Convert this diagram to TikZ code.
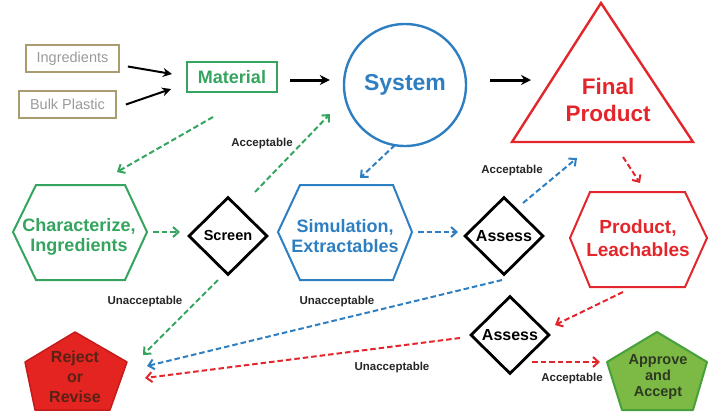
\documentclass[tikz,border=0pt]{standalone}
\usepackage{fontspec}
\setmainfont{Liberation Sans}
\usetikzlibrary{arrows.meta,calc,shapes.geometric}

\definecolor{grn}{HTML}{34A45E}
\definecolor{blu}{HTML}{2E7EC2}
\definecolor{rd}{HTML}{E3262B}
\definecolor{olive}{HTML}{A99C6E}
\definecolor{greytxt}{HTML}{9A9A9A}
\definecolor{okfill}{HTML}{7CBA45}
\definecolor{okedge}{HTML}{46A13A}
\definecolor{nofill}{HTML}{E32420}
\definecolor{noedge}{HTML}{C41B1B}
\definecolor{notxt}{HTML}{5A2216}
\definecolor{oktxt}{HTML}{2E3A22}

\tikzset{
  inbox/.style={draw=olive, line width=1.8pt, minimum height=27pt, inner xsep=4pt,
    text=greytxt, font=\fontsize{14.5}{16}\selectfont},
  matbox/.style={draw=grn, line width=2pt, minimum width=90pt, minimum height=30pt,
    text=grn, font=\fontsize{18}{20}\selectfont\bfseries},
  decide/.style={diamond, draw=black, line width=2.8pt, minimum width=79pt,
    minimum height=78pt, inner sep=0pt, aspect=1, font=\fontsize{16}{18}\selectfont\bfseries},
  hexlabel/.style={align=center, font=\fontsize{18}{20}\selectfont\bfseries},
  lbl/.style={font=\fontsize{11.5}{13}\selectfont\bfseries, text=black!85},
  solidarrow/.style={draw=black, line width=2pt, -{Stealth[length=9pt,width=9pt]}},
  thickarrow/.style={draw=black, line width=3pt, -{Stealth[length=10pt,width=10pt]}},
  dasharrow/.style={line width=2pt, dash pattern=on 5.5pt off 3pt,
    -{Straight Barb[length=5.5pt,width=10pt]}},
  gdash/.style={dasharrow, draw=grn},
  bdash/.style={dasharrow, draw=blu},
  rdash/.style={dasharrow, draw=rd},
}

\begin{document}
\begin{tikzpicture}[x=1pt,y=-1pt]
\useasboundingbox (0,0) rectangle (714,416);

% inputs and material
\node[inbox, minimum width=93pt] (ingr) at (72.5,58.5) {Ingredients};
\node[inbox, minimum width=97pt] (bulk) at (67.5,104.5) {Bulk Plastic};
\node[matbox] (mat) at (232,77) {Material};

% system
\node[circle, draw=blu, line width=2.4pt, minimum size=122pt, text=blu,
  font=\fontsize{23}{26}\selectfont\bfseries] (sys) at (405,85) {System};

% final product triangle
\node[align=center, text=rd, font=\fontsize{22.5}{27}\selectfont\bfseries] (fp) at (608,100) {Final\\Product};
\draw[rd, line width=2.4pt, line join=miter] (601,3) -- (693,142) -- (512,142) -- cycle;

% characterize hexagon
\node[hexlabel, text=grn] (char) at (79,237) {Characterize,\\Ingredients};
\draw[grn, line width=2pt] (13,232) -- (36,185) -- (125,185) -- (147,232) -- (125,280) -- (36,280) -- cycle;

% simulation hexagon
\node[hexlabel, text=blu] (sim) at (345,236) {Simulation,\\Extractables};
\draw[blu, line width=2pt] (278,232) -- (300,185) -- (393,185) -- (412,232) -- (393,280) -- (300,280) -- cycle;

% product hexagon
\node[hexlabel, text=rd, font=\fontsize{19}{23}\selectfont\bfseries] (prod) at (638,238) {Product,\\Leachables};
\draw[rd, line width=2pt] (570,238) -- (590,192) -- (685,192) -- (707,238) -- (685,287) -- (590,287) -- cycle;

% decisions
\node[decide, font=\fontsize{14.5}{16}\selectfont\bfseries] (scr) at (228,236) {Screen};
\node[decide] (as1) at (504,236) {Assess};
\node[decide] (as2) at (510,335) {Assess};

% outcome pentagons
\fill[nofill, draw=noedge, line width=1.5pt, line join=round]
  (75,332) -- (127,362) -- (110,410) -- (35,410) -- (25,362) -- cycle;
\node[align=center, text=notxt, font=\fontsize{16}{20}\selectfont\bfseries] (rej) at (75,377) {Reject\\or\\Revise};
\fill[okfill, draw=okedge, line width=2pt, line join=round]
  (657,332) -- (707,362) -- (693,410) -- (622,410) -- (607,362) -- cycle;
\node[align=center, text=oktxt, font=\fontsize{14.5}{16}\selectfont\bfseries] (appr) at (658,377) {Approve\\and\\Accept};

% main flow
\draw[solidarrow] ($(ingr.east)+(8,8)$) -- ($(mat.west)+(-14,-3)$);
\draw[solidarrow] ($(bulk.east)+(9,0)$) -- ($(mat.west)+(-15,12)$);
\draw[thickarrow] ($(mat.east)+(12,3)$) -- ($(sys.west)+(-13,-5)$);
\draw[thickarrow] ($(sys.east)+(23,-5)$) -- ($(fp)+(-77,-20)$);

% material branch
\draw[gdash] ($(mat.south)+(-19,24)$) -- ($(char)+(38,-65)$);
\draw[gdash] ($(char)+(74,-5)$) -- ($(scr)+(-48,-4)$);
\draw[gdash] ($(scr)+(27,-44)$) -- ($(sys)+(-75,29)$);
\draw[gdash] ($(scr)+(-10,44)$) -- ($(rej)+(68,-22)$);

% system branch
\draw[bdash] ($(sys)+(-10,60)$) -- ($(sim)+(15,-58)$);
\draw[bdash] ($(sim)+(73,-4)$) -- ($(as1)+(-46,-4)$);
\draw[bdash] ($(as1)+(19,-33)$) -- ($(fp)+(-31,58)$);
\draw[bdash] ($(as1)+(-2,44)$) -- ($(rej)+(72,-11)$);

% product branch
\draw[rdash] ($(fp)+(15,57)$) -- ($(prod)+(2,-55)$);
\draw[rdash] ($(prod)+(-15,54)$) -- ($(as2)+(45,-10)$);
\draw[rdash] ($(as2)+(-50,3)$) -- ($(rej)+(70,1)$);
\draw[rdash] ($(as2)+(22,27)$) -- ($(appr)+(-58,-15)$);

% decision labels
\node[lbl] (l1) at (262,144) {Acceptable};
\node[lbl] (l2) at (512,171) {Acceptable};
\node[lbl] (l3) at (145,302) {Unacceptable};
\node[lbl] (l4) at (337,302) {Unacceptable};
\node[lbl] (l5) at (392,368) {Unacceptable};
\node[lbl] (l6) at (572,379) {Acceptable};
\end{tikzpicture}
\end{document}
